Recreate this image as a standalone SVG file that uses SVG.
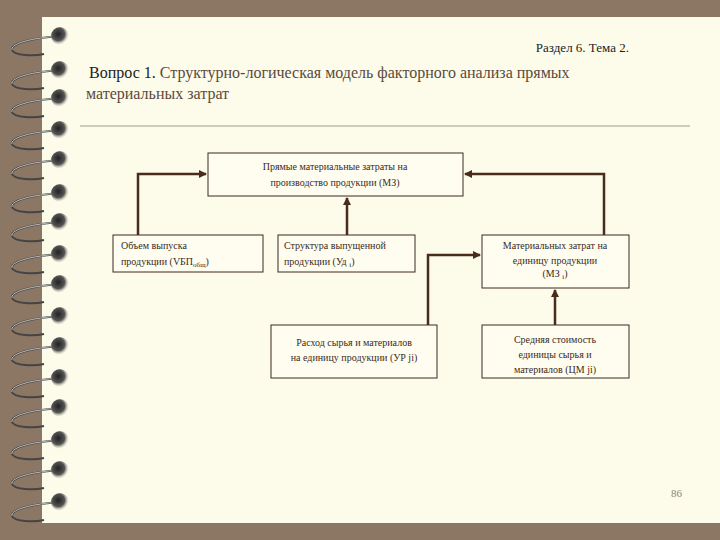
<svg xmlns="http://www.w3.org/2000/svg" width="720" height="540" viewBox="0 0 720 540">
<defs>
<marker id="ah" markerWidth="8" markerHeight="8" refX="7" refY="4" orient="auto" markerUnits="userSpaceOnUse"><path d="M0,0 L8,4 L0,8 z" fill="#4a2c1c"/></marker>
<radialGradient id="hole" cx="0.4" cy="0.4" r="0.6"><stop offset="0" stop-color="#222"/><stop offset="0.6" stop-color="#555"/><stop offset="1" stop-color="#cfc9b5" stop-opacity="0"/></radialGradient>
<g id="ring"><path d="M60,0 C30,2 10,8 12,14 C14,20 35,20 44,18" fill="none" stroke="#444" stroke-width="2"/><path d="M60,0 C30,2 10,8 12,14" fill="none" stroke="#ddd" stroke-width="0.8"/><circle cx="60" cy="0" r="9" fill="url(#hole)"/></g>
</defs>
<style>
text{font-family:'Liberation Serif','DejaVu Serif','Times New Roman',serif}
.b{fill:#fffdf0;stroke:#3a2a20;stroke-width:1}
.t{font-size:10px;fill:#3a2a20}
.c{fill:none;stroke:#4a2c1c;stroke-width:2.5}
</style>
<rect width="720" height="540" fill="#8c7664"/>
<rect x="42" y="17" width="678" height="506" fill="#fdfbea"/>
<g>
<use href="#ring" y="36"/><use href="#ring" y="70"/><use href="#ring" y="98"/><use href="#ring" y="130"/><use href="#ring" y="160"/><use href="#ring" y="193"/><use href="#ring" y="222"/><use href="#ring" y="254"/><use href="#ring" y="284"/><use href="#ring" y="316"/><use href="#ring" y="346"/><use href="#ring" y="378"/><use href="#ring" y="408"/><use href="#ring" y="440"/><use href="#ring" y="470"/><use href="#ring" y="502"/>
</g>
<text x="629" y="52" text-anchor="end" font-size="13" fill="#222">Раздел 6. Тема 2.</text>
<text x="89" y="78" font-size="16" fill="#222">Вопрос 1. <tspan fill="#5a4a3c">Структурно-логическая модель факторного анализа прямых</tspan></text>
<text x="86" y="99" font-size="16" fill="#5a4a3c">материальных затрат</text>
<line x1="80" y1="126" x2="690" y2="126" stroke="#a09a8a" stroke-width="1"/>
<g id="connectors">
<path class="c" d="M138,235 V174 H206" marker-end="url(#ah)"/>
<path class="c" d="M347,235 V198" marker-end="url(#ah)"/>
<path class="c" d="M604,235 V174 H465" marker-end="url(#ah)"/>
<path class="c" d="M428,325 V255 H480" marker-end="url(#ah)"/>
<path class="c" d="M555,325 V290" marker-end="url(#ah)"/>
</g>
<g id="n0"><rect class="b" x="208" y="153" width="255" height="43"/><text class="t" x="335" y="170" text-anchor="middle">Прямые материальные затраты на</text><text class="t" x="335" y="186" text-anchor="middle">производство продукции (МЗ)</text></g>
<g id="n1"><rect class="b" x="113" y="235" width="150" height="37"/><text class="t" x="121" y="249">Объем выпуска</text><text class="t" x="121" y="265">продукции (VБП<tspan font-size="7" dy="2">общ</tspan><tspan dy="-2">)</tspan></text></g>
<g id="n2"><rect class="b" x="278" y="235" width="137" height="37"/><text class="t" x="284" y="249">Структура выпущенной</text><text class="t" x="284" y="265">продукции (Уд <tspan font-size="7" dy="2">i</tspan><tspan dy="-2">)</tspan></text></g>
<g id="n3"><rect class="b" x="482" y="235" width="147" height="53"/><text class="t" x="555" y="249" text-anchor="middle">Материальных затрат на</text><text class="t" x="555" y="264" text-anchor="middle">единицу продукции</text><text class="t" x="555" y="277" text-anchor="middle">(МЗ <tspan font-size="7" dy="2">i</tspan><tspan dy="-2">)</tspan></text></g>
<g id="n4"><rect class="b" x="271" y="325" width="166" height="53"/><text class="t" x="354" y="346" text-anchor="middle">Расход сырья и материалов</text><text class="t" x="354" y="361" text-anchor="middle">на единицу продукции (УР ji)</text></g>
<g id="n5"><rect class="b" x="482" y="325" width="147" height="53"/><text class="t" x="555" y="343" text-anchor="middle">Средняя стоимость</text><text class="t" x="555" y="358" text-anchor="middle">единицы сырья и</text><text class="t" x="555" y="373" text-anchor="middle">материалов (ЦМ ji)</text></g>
<text x="682" y="497" text-anchor="end" font-size="11" fill="#8a8478">86</text>
</svg>
